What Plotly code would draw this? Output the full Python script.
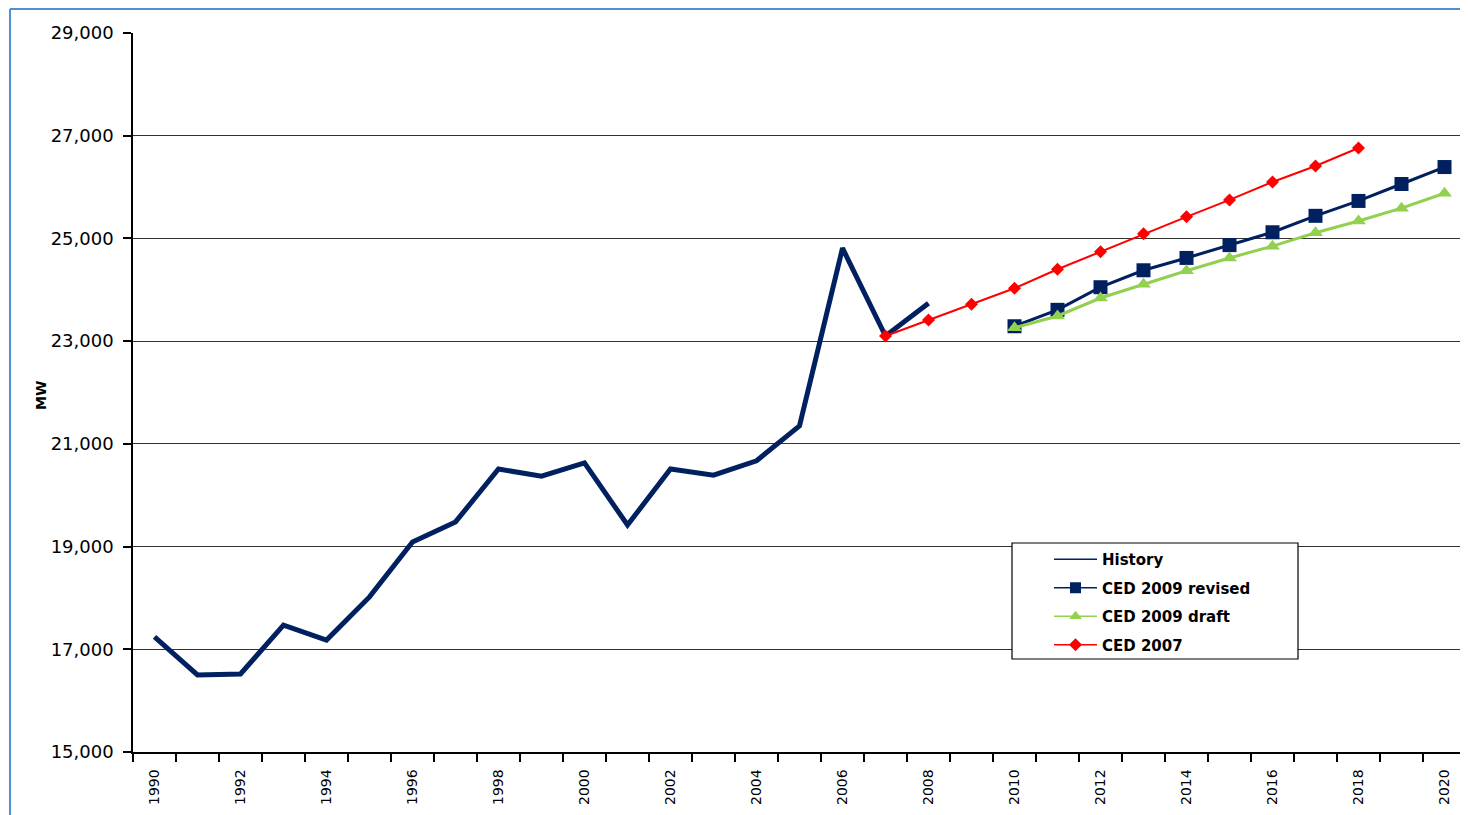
import plotly.graph_objects as go

years = list(range(1990, 2021))
history_years = list(range(1990, 2009))
history = [17240, 16500, 16520, 17470, 17180, 18020, 19090, 19480, 20510, 20370,
           20630, 19420, 20510, 20390, 20670, 21350, 24810, 23100, 23740]

ced2009r_years = list(range(2010, 2021))
ced2009r = [23290, 23610, 24050, 24380, 24620, 24870, 25120, 25440, 25730, 26060, 26390]

ced2009d_years = list(range(2010, 2021))
ced2009d = [23260, 23490, 23840, 24110, 24370, 24620, 24850, 25110, 25340, 25590, 25880]

ced2007_years = list(range(2007, 2019))
ced2007 = [23100, 23410, 23720, 24030, 24400, 24740, 25090, 25420, 25750, 26100, 26410, 26760]

tick_years = list(range(1990, 2021, 2))
y_ticks = list(range(15000, 29001, 2000))

NAVY = "#002060"
GREEN = "#92D050"
RED = "#FF0000"
FONT = "Liberation Sans, Arial, sans-serif"
DJ = "DejaVu Sans, sans-serif"

fig = go.Figure()
# data traces (hidden from legend; legend uses thin-line entries like the original)
fig.add_trace(go.Scatter(x=history_years, y=history, name="History", mode="lines",
                         line=dict(color=NAVY, width=5), showlegend=False))
fig.add_trace(go.Scatter(x=ced2009r_years, y=ced2009r, name="CED 2009 revised", mode="lines+markers",
                         line=dict(color=NAVY, width=3),
                         marker=dict(symbol="square", size=14, color=NAVY), showlegend=False))
fig.add_trace(go.Scatter(x=ced2009d_years, y=ced2009d, name="CED 2009 draft", mode="lines+markers",
                         line=dict(color=GREEN, width=3),
                         marker=dict(symbol="triangle-up", size=13, color=GREEN), showlegend=False))
fig.add_trace(go.Scatter(x=ced2007_years, y=ced2007, name="CED 2007", mode="lines+markers",
                         line=dict(color=RED, width=2),
                         marker=dict(symbol="diamond", size=10, color=RED), showlegend=False))

# legend-only entries
fig.add_trace(go.Scatter(x=[None], y=[None], name="History", mode="lines",
                         line=dict(color=NAVY, width=1.5), legendgroup="a"))
fig.add_trace(go.Scatter(x=[None], y=[None], name="CED 2009 revised", mode="lines+markers",
                         line=dict(color=NAVY, width=1.5),
                         marker=dict(symbol="square", size=11, color=NAVY), legendgroup="b"))
fig.add_trace(go.Scatter(x=[None], y=[None], name="CED 2009 draft", mode="lines+markers",
                         line=dict(color=GREEN, width=1.5),
                         marker=dict(symbol="triangle-up", size=11, color=GREEN), legendgroup="c"))
fig.add_trace(go.Scatter(x=[None], y=[None], name="CED 2007", mode="lines+markers",
                         line=dict(color=RED, width=1.5),
                         marker=dict(symbol="diamond", size=10, color=RED), legendgroup="d"))

# page has an 8px body margin; figure coordinates = page coordinates - 8
OFF = 8
W, H = 1460, 807
L, T = 133 - OFF, 33 - OFF
PR, PB = 1466 - OFF, 752 - OFF
R, B = W - PR, H - PB
pw, ph = PR - L, PB - T

def px_x(p):
    return (p - OFF - L) / pw

def px_y(p):
    return (PB - (p - OFF)) / ph

fig.update_layout(
    width=W, height=H,
    margin=dict(l=L, r=R, t=T, b=B),
    paper_bgcolor="white", plot_bgcolor="white",
    font=dict(family=FONT, size=15, color="black"),
    showlegend=True,
    legend=dict(x=px_x(1049), y=px_y(543), xanchor="left", yanchor="top",
                borderwidth=0, bgcolor="rgba(0,0,0,0)", itemwidth=43,
                font=dict(family=DJ, size=15, weight="bold"),
                traceorder="grouped", tracegroupgap=6),
    xaxis=dict(range=[1989.5, 2020.5], tickmode="array", tickvals=tick_years,
               ticktext=[str(y) for y in tick_years], tickangle=-90,
               ticks="", showgrid=False, showline=True, linecolor="black", linewidth=1.5,
               zeroline=False, tickfont=dict(family=DJ, size=14), ticklabelstandoff=10,
               minor=dict(tickmode="linear", tick0=1989.5, dtick=1, ticks="outside",
                          ticklen=8, tickcolor="black", tickwidth=1.5, showgrid=False)),
    yaxis=dict(range=[15000, 29000], tickmode="array", tickvals=y_ticks,
               tickformat=",", ticks="outside", ticklen=8, tickcolor="black", tickwidth=1.5,
               showgrid=True, gridcolor="#333333", gridwidth=1,
               showline=True, linecolor="black", linewidth=1.5, zeroline=False,
               tickfont=dict(family=DJ, size=18), ticklabelstandoff=6),
    annotations=[dict(text="<b>MW</b>", xref="paper", yref="paper",
                      x=px_x(41), y=px_y(396), xanchor="center", yanchor="middle",
                      textangle=-90, showarrow=False,
                      font=dict(family=DJ, size=14, color="black"))],
    shapes=[
        dict(type="rect", xref="paper", yref="paper", layer="above",
             x0=px_x(1012), x1=px_x(1298), y0=px_y(543), y1=px_y(659),
             line=dict(color="black", width=1.2), fillcolor="white"),
        dict(type="line", xref="paper", yref="paper", x0=px_x(10), x1=px_x(1480),
             y0=px_y(9), y1=px_y(9), line=dict(color="#4F8FD9", width=2)),
        dict(type="line", xref="paper", yref="paper", x0=px_x(10), x1=px_x(10),
             y0=px_y(9), y1=px_y(830), line=dict(color="#4F8FD9", width=2)),
    ],
)

fig.write_html("out.html")
